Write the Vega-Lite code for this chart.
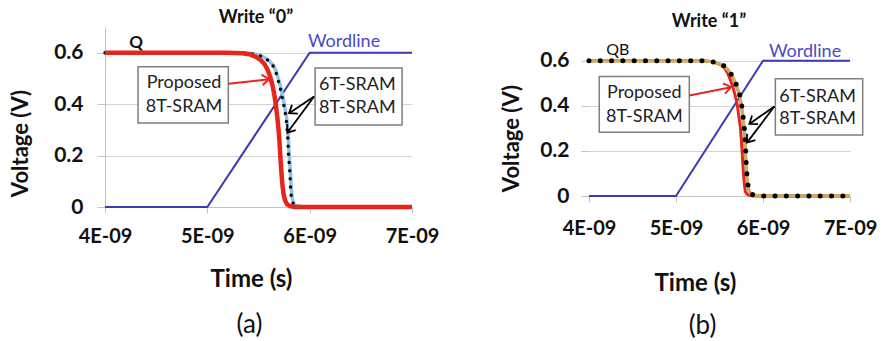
{
  "$schema": "https://vega.github.io/schema/vega-lite/v6.json",
  "background": "white",
  "padding": {"left": 9, "top": 8, "right": 0, "bottom": 0},
  "spacing": 61,
  "config": {
    "font": "Lato",
    "view": {"stroke": null},
    "axis": {"labelColor": "#111111", "titleColor": "#111111", "labelFlush": false, "labelOverlap": false}
  },
  "datasets": {
    "a_lines": [
      {"series": "Wordline", "t": 4e-9, "v": 0}, {"series": "Wordline", "t": 5e-9, "v": 0}, {"series": "Wordline", "t": 6e-9, "v": 0.6}, {"series": "Wordline", "t": 7e-9, "v": 0.6},
      {"series": "8T-SRAM", "t": 4e-9, "v": 0.6}, {"series": "8T-SRAM", "t": 5.3e-9, "v": 0.6}, {"series": "8T-SRAM", "t": 5.43e-9, "v": 0.597}, {"series": "8T-SRAM", "t": 5.5e-9, "v": 0.591}, {"series": "8T-SRAM", "t": 5.55e-9, "v": 0.583}, {"series": "8T-SRAM", "t": 5.6e-9, "v": 0.569}, {"series": "8T-SRAM", "t": 5.645e-9, "v": 0.551}, {"series": "8T-SRAM", "t": 5.673e-9, "v": 0.528}, {"series": "8T-SRAM", "t": 5.693e-9, "v": 0.501}, {"series": "8T-SRAM", "t": 5.713e-9, "v": 0.473}, {"series": "8T-SRAM", "t": 5.734e-9, "v": 0.434}, {"series": "8T-SRAM", "t": 5.753e-9, "v": 0.398}, {"series": "8T-SRAM", "t": 5.767e-9, "v": 0.368}, {"series": "8T-SRAM", "t": 5.779e-9, "v": 0.333}, {"series": "8T-SRAM", "t": 5.788e-9, "v": 0.292}, {"series": "8T-SRAM", "t": 5.794e-9, "v": 0.254}, {"series": "8T-SRAM", "t": 5.798e-9, "v": 0.214}, {"series": "8T-SRAM", "t": 5.805e-9, "v": 0.174}, {"series": "8T-SRAM", "t": 5.812e-9, "v": 0.137}, {"series": "8T-SRAM", "t": 5.817e-9, "v": 0.099}, {"series": "8T-SRAM", "t": 5.822e-9, "v": 0.061}, {"series": "8T-SRAM", "t": 5.83e-9, "v": 0.034}, {"series": "8T-SRAM", "t": 5.846e-9, "v": 0.013}, {"series": "8T-SRAM", "t": 5.87e-9, "v": 0.005}, {"series": "8T-SRAM", "t": 5.92e-9, "v": 0.001}, {"series": "8T-SRAM", "t": 5.97e-9, "v": 0}, {"series": "8T-SRAM", "t": 7e-9, "v": 0},
      {"series": "6T-SRAM", "t": 4e-9, "v": 0.6}, {"series": "6T-SRAM", "t": 5.3e-9, "v": 0.6}, {"series": "6T-SRAM", "t": 5.42e-9, "v": 0.597}, {"series": "6T-SRAM", "t": 5.49e-9, "v": 0.592}, {"series": "6T-SRAM", "t": 5.54e-9, "v": 0.584}, {"series": "6T-SRAM", "t": 5.59e-9, "v": 0.571}, {"series": "6T-SRAM", "t": 5.636e-9, "v": 0.553}, {"series": "6T-SRAM", "t": 5.665e-9, "v": 0.53}, {"series": "6T-SRAM", "t": 5.685e-9, "v": 0.503}, {"series": "6T-SRAM", "t": 5.705e-9, "v": 0.475}, {"series": "6T-SRAM", "t": 5.726e-9, "v": 0.436}, {"series": "6T-SRAM", "t": 5.745e-9, "v": 0.4}, {"series": "6T-SRAM", "t": 5.76e-9, "v": 0.37}, {"series": "6T-SRAM", "t": 5.772e-9, "v": 0.335}, {"series": "6T-SRAM", "t": 5.782e-9, "v": 0.293}, {"series": "6T-SRAM", "t": 5.788e-9, "v": 0.255}, {"series": "6T-SRAM", "t": 5.792e-9, "v": 0.215}, {"series": "6T-SRAM", "t": 5.799e-9, "v": 0.175}, {"series": "6T-SRAM", "t": 5.806e-9, "v": 0.138}, {"series": "6T-SRAM", "t": 5.811e-9, "v": 0.1}, {"series": "6T-SRAM", "t": 5.815e-9, "v": 0.062}, {"series": "6T-SRAM", "t": 5.822e-9, "v": 0.035}, {"series": "6T-SRAM", "t": 5.838e-9, "v": 0.014}, {"series": "6T-SRAM", "t": 5.86e-9, "v": 0.006}, {"series": "6T-SRAM", "t": 5.9e-9, "v": 0.002}, {"series": "6T-SRAM", "t": 5.95e-9, "v": 0}, {"series": "6T-SRAM", "t": 7e-9, "v": 0},
      {"series": "Proposed", "t": 4e-9, "v": 0.6}, {"series": "Proposed", "t": 5.2e-9, "v": 0.6}, {"series": "Proposed", "t": 5.34e-9, "v": 0.598}, {"series": "Proposed", "t": 5.41e-9, "v": 0.594}, {"series": "Proposed", "t": 5.47e-9, "v": 0.585}, {"series": "Proposed", "t": 5.52e-9, "v": 0.572}, {"series": "Proposed", "t": 5.56e-9, "v": 0.555}, {"series": "Proposed", "t": 5.59e-9, "v": 0.533}, {"series": "Proposed", "t": 5.615e-9, "v": 0.505}, {"series": "Proposed", "t": 5.64e-9, "v": 0.468}, {"series": "Proposed", "t": 5.655e-9, "v": 0.435}, {"series": "Proposed", "t": 5.67e-9, "v": 0.395}, {"series": "Proposed", "t": 5.685e-9, "v": 0.345}, {"series": "Proposed", "t": 5.695e-9, "v": 0.305}, {"series": "Proposed", "t": 5.705e-9, "v": 0.255}, {"series": "Proposed", "t": 5.713e-9, "v": 0.2}, {"series": "Proposed", "t": 5.722e-9, "v": 0.145}, {"series": "Proposed", "t": 5.733e-9, "v": 0.088}, {"series": "Proposed", "t": 5.745e-9, "v": 0.05}, {"series": "Proposed", "t": 5.76e-9, "v": 0.025}, {"series": "Proposed", "t": 5.78e-9, "v": 0.01}, {"series": "Proposed", "t": 5.81e-9, "v": 0.003}, {"series": "Proposed", "t": 5.85e-9, "v": 0}, {"series": "Proposed", "t": 7e-9, "v": 0}
    ],
    "b_lines": [
      {"series": "Wordline", "t": 4e-9, "v": 0}, {"series": "Wordline", "t": 5e-9, "v": 0}, {"series": "Wordline", "t": 6e-9, "v": 0.6}, {"series": "Wordline", "t": 7e-9, "v": 0.6},
      {"series": "Proposed", "t": 4e-9, "v": 0.6}, {"series": "Proposed", "t": 5.3e-9, "v": 0.6}, {"series": "Proposed", "t": 5.42e-9, "v": 0.596}, {"series": "Proposed", "t": 5.517e-9, "v": 0.582}, {"series": "Proposed", "t": 5.56e-9, "v": 0.567}, {"series": "Proposed", "t": 5.594e-9, "v": 0.545}, {"series": "Proposed", "t": 5.625e-9, "v": 0.515}, {"series": "Proposed", "t": 5.652e-9, "v": 0.486}, {"series": "Proposed", "t": 5.68e-9, "v": 0.445}, {"series": "Proposed", "t": 5.701e-9, "v": 0.412}, {"series": "Proposed", "t": 5.72e-9, "v": 0.36}, {"series": "Proposed", "t": 5.739e-9, "v": 0.308}, {"series": "Proposed", "t": 5.75e-9, "v": 0.255}, {"series": "Proposed", "t": 5.759e-9, "v": 0.204}, {"series": "Proposed", "t": 5.768e-9, "v": 0.145}, {"series": "Proposed", "t": 5.778e-9, "v": 0.086}, {"series": "Proposed", "t": 5.788e-9, "v": 0.045}, {"series": "Proposed", "t": 5.797e-9, "v": 0.019}, {"series": "Proposed", "t": 5.815e-9, "v": 0.008}, {"series": "Proposed", "t": 5.843e-9, "v": 0.003}, {"series": "Proposed", "t": 5.88e-9, "v": 0}, {"series": "Proposed", "t": 7e-9, "v": 0},
      {"series": "8T-SRAM", "t": 4e-9, "v": 0.6}, {"series": "8T-SRAM", "t": 5.3e-9, "v": 0.6}, {"series": "8T-SRAM", "t": 5.397e-9, "v": 0.597}, {"series": "8T-SRAM", "t": 5.465e-9, "v": 0.591}, {"series": "8T-SRAM", "t": 5.531e-9, "v": 0.582}, {"series": "8T-SRAM", "t": 5.595e-9, "v": 0.56}, {"series": "8T-SRAM", "t": 5.647e-9, "v": 0.53}, {"series": "8T-SRAM", "t": 5.69e-9, "v": 0.492}, {"series": "8T-SRAM", "t": 5.723e-9, "v": 0.456}, {"series": "8T-SRAM", "t": 5.745e-9, "v": 0.415}, {"series": "8T-SRAM", "t": 5.762e-9, "v": 0.368}, {"series": "8T-SRAM", "t": 5.777e-9, "v": 0.315}, {"series": "8T-SRAM", "t": 5.788e-9, "v": 0.264}, {"series": "8T-SRAM", "t": 5.795e-9, "v": 0.21}, {"series": "8T-SRAM", "t": 5.8e-9, "v": 0.16}, {"series": "8T-SRAM", "t": 5.809e-9, "v": 0.105}, {"series": "8T-SRAM", "t": 5.819e-9, "v": 0.056}, {"series": "8T-SRAM", "t": 5.835e-9, "v": 0.025}, {"series": "8T-SRAM", "t": 5.857e-9, "v": 0.009}, {"series": "8T-SRAM", "t": 5.895e-9, "v": 0.004}, {"series": "8T-SRAM", "t": 5.935e-9, "v": 0.002}, {"series": "8T-SRAM", "t": 5.995e-9, "v": 0}, {"series": "8T-SRAM", "t": 7e-9, "v": 0},
      {"series": "Conventional", "t": 4e-9, "v": 0.6}, {"series": "Conventional", "t": 5.3e-9, "v": 0.6}, {"series": "Conventional", "t": 5.402e-9, "v": 0.597}, {"series": "Conventional", "t": 5.47e-9, "v": 0.591}, {"series": "Conventional", "t": 5.536e-9, "v": 0.582}, {"series": "Conventional", "t": 5.6e-9, "v": 0.56}, {"series": "Conventional", "t": 5.652e-9, "v": 0.53}, {"series": "Conventional", "t": 5.695e-9, "v": 0.492}, {"series": "Conventional", "t": 5.728e-9, "v": 0.456}, {"series": "Conventional", "t": 5.75e-9, "v": 0.415}, {"series": "Conventional", "t": 5.767e-9, "v": 0.368}, {"series": "Conventional", "t": 5.782e-9, "v": 0.315}, {"series": "Conventional", "t": 5.793e-9, "v": 0.264}, {"series": "Conventional", "t": 5.8e-9, "v": 0.21}, {"series": "Conventional", "t": 5.805e-9, "v": 0.16}, {"series": "Conventional", "t": 5.814e-9, "v": 0.105}, {"series": "Conventional", "t": 5.824e-9, "v": 0.056}, {"series": "Conventional", "t": 5.84e-9, "v": 0.025}, {"series": "Conventional", "t": 5.862e-9, "v": 0.009}, {"series": "Conventional", "t": 5.9e-9, "v": 0.004}, {"series": "Conventional", "t": 5.94e-9, "v": 0.002}, {"series": "Conventional", "t": 6e-9, "v": 0}, {"series": "Conventional", "t": 7e-9, "v": 0},
      {"series": "6T-SRAM", "t": 4e-9, "v": 0.6}, {"series": "6T-SRAM", "t": 5.3e-9, "v": 0.6}, {"series": "6T-SRAM", "t": 5.402e-9, "v": 0.597}, {"series": "6T-SRAM", "t": 5.47e-9, "v": 0.591}, {"series": "6T-SRAM", "t": 5.536e-9, "v": 0.582}, {"series": "6T-SRAM", "t": 5.6e-9, "v": 0.56}, {"series": "6T-SRAM", "t": 5.652e-9, "v": 0.53}, {"series": "6T-SRAM", "t": 5.695e-9, "v": 0.492}, {"series": "6T-SRAM", "t": 5.728e-9, "v": 0.456}, {"series": "6T-SRAM", "t": 5.75e-9, "v": 0.415}, {"series": "6T-SRAM", "t": 5.767e-9, "v": 0.368}, {"series": "6T-SRAM", "t": 5.782e-9, "v": 0.315}, {"series": "6T-SRAM", "t": 5.793e-9, "v": 0.264}, {"series": "6T-SRAM", "t": 5.8e-9, "v": 0.21}, {"series": "6T-SRAM", "t": 5.805e-9, "v": 0.16}, {"series": "6T-SRAM", "t": 5.814e-9, "v": 0.105}, {"series": "6T-SRAM", "t": 5.824e-9, "v": 0.056}, {"series": "6T-SRAM", "t": 5.84e-9, "v": 0.025}, {"series": "6T-SRAM", "t": 5.862e-9, "v": 0.009}, {"series": "6T-SRAM", "t": 5.9e-9, "v": 0.004}, {"series": "6T-SRAM", "t": 5.94e-9, "v": 0.002}, {"series": "6T-SRAM", "t": 6e-9, "v": 0}, {"series": "6T-SRAM", "t": 7e-9, "v": 0}
    ],
    "a_notes": [
      {"kind": "head", "label": "Write “0”", "t": 5.476e-9, "v": 0.736},
      {"kind": "node", "label": "Q", "t": 4.303e-9, "v": 0.639},
      {"kind": "wl", "label": "Wordline", "t": 6.336e-9, "v": 0.643},
      {"kind": "box", "label": "Proposed", "t": 4.772e-9, "v": 0.484},
      {"kind": "box", "label": "8T-SRAM", "t": 4.772e-9, "v": 0.388},
      {"kind": "box", "label": "6T-SRAM", "t": 6.466e-9, "v": 0.475},
      {"kind": "box", "label": "8T-SRAM", "t": 6.466e-9, "v": 0.384}
    ],
    "b_notes": [
      {"kind": "head", "label": "Write “1”", "t": 5.379e-9, "v": 0.773},
      {"kind": "node", "label": "QB", "t": 4.33e-9, "v": 0.649},
      {"kind": "wl", "label": "Wordline", "t": 6.483e-9, "v": 0.641},
      {"kind": "box", "label": "Proposed", "t": 4.636e-9, "v": 0.456},
      {"kind": "box", "label": "8T-SRAM", "t": 4.636e-9, "v": 0.35},
      {"kind": "box", "label": "6T-SRAM", "t": 6.628e-9, "v": 0.441},
      {"kind": "box", "label": "8T-SRAM", "t": 6.628e-9, "v": 0.342}
    ],
    "a_boxes": [
      {"t": 4.323e-9, "t2": 5.205e-9, "v": 0.327, "v2": 0.545},
      {"t": 6.053e-9, "t2": 6.903e-9, "v": 0.319, "v2": 0.541}
    ],
    "b_boxes": [
      {"t": 4.118e-9, "t2": 5.153e-9, "v": 0.283, "v2": 0.53},
      {"t": 6.142e-9, "t2": 7.146e-9, "v": 0.271, "v2": 0.52}
    ],
    "a_arrows": [
      {"id": "p", "t": 5.603e-9, "v": 0.497, "t2": 5.205e-9, "v2": 0.479},
      {"id": "c1", "t": 5.799e-9, "v": 0.365, "t2": 6.043e-9, "v2": 0.43},
      {"id": "c2", "t": 5.782e-9, "v": 0.289, "t2": 6.043e-9, "v2": 0.43}
    ],
    "b_arrows": [
      {"id": "p", "t": 5.632e-9, "v": 0.483, "t2": 5.153e-9, "v2": 0.446},
      {"id": "c1", "t": 5.843e-9, "v": 0.32, "t2": 6.13e-9, "v2": 0.397},
      {"id": "c2", "t": 5.816e-9, "v": 0.237, "t2": 6.13e-9, "v2": 0.397}
    ]
  },
  "hconcat": [
    {
      "width": 307,
      "height": 180,
      "title": {"text": "(a)", "orient": "bottom", "fontSize": 26, "fontWeight": "normal", "color": "#111111", "offset": 21, "dx": -9},
      "encoding": {
        "x": {"field": "t", "type": "quantitative", "scale": {"domain": [4e-9, 7e-9], "nice": false, "zero": false},
          "axis": {"title": "Time (s)", "values": [4e-9, 5e-9, 6e-9, 7e-9], "labelExpr": "round(datum.value * 1e9) + 'E-09'", "grid": false, "domainColor": "#c4c4c4", "tickColor": "#c4c4c4", "tickSize": 6, "labelFontSize": 20, "labelFontWeight": "bold", "labelPadding": 13, "titleFontSize": 24, "titleFontWeight": "bold", "titlePadding": 21, "titleX": 146}},
        "y": {"field": "v", "type": "quantitative", "scale": {"domain": [0, 0.7], "nice": false},
          "axis": {"title": "Voltage (V)", "values": [0, 0.2, 0.4, 0.6], "labelExpr": "datum.value == 0 ? '0' : format(datum.value, '.1f')", "grid": true, "gridColor": "#d4d4d4", "gridWidth": 1.2, "domainColor": "#c4c4c4", "tickColor": "#c4c4c4", "tickSize": 8, "labelFontSize": 21, "labelFontWeight": "bold", "labelPadding": 14, "titleFontSize": 22, "titleFontWeight": "bold", "titlePadding": 21, "titleY": 116}}
      },
      "layer": [
        {"data": {"name": "a_lines"}, "transform": [{"filter": "datum.series == 'Wordline'"}], "mark": {"type": "line", "color": "#3a3ab4", "strokeWidth": 2}},
        {"data": {"name": "a_lines"}, "transform": [{"filter": "datum.series == '8T-SRAM'"}], "mark": {"type": "line", "color": "#8cc3e6", "strokeWidth": 3.5}},
        {"data": {"name": "a_lines"}, "transform": [{"filter": "datum.series == '6T-SRAM'"}], "mark": {"type": "line", "color": "#000000", "strokeWidth": 3.5, "strokeDash": [0, 8.2], "strokeCap": "round"}},
        {"data": {"name": "a_lines"}, "transform": [{"filter": "datum.series == 'Proposed'"}], "mark": {"type": "line", "color": "#e8251d", "strokeWidth": 4.5}},
        {"data": {"name": "a_boxes"}, "mark": {"type": "rect", "fill": "white", "stroke": "#7f7f7f", "strokeWidth": 1.5}, "encoding": {"x2": {"field": "t2"}, "y2": {"field": "v2"}}},
        {"data": {"name": "a_notes"}, "transform": [{"filter": "datum.kind == 'box'"}], "mark": {"type": "text", "fontSize": 18, "color": "#222222", "clip": false}, "encoding": {"text": {"field": "label"}}},
        {"data": {"name": "a_notes"}, "transform": [{"filter": "datum.kind == 'head'"}], "mark": {"type": "text", "fontSize": 18, "fontWeight": "bold", "color": "#111111", "clip": false}, "encoding": {"text": {"field": "label"}}},
        {"data": {"name": "a_notes"}, "transform": [{"filter": "datum.kind == 'node'"}], "mark": {"type": "text", "fontSize": 17, "fontWeight": "bold", "color": "#111111", "clip": false}, "encoding": {"text": {"field": "label"}}},
        {"data": {"name": "a_notes"}, "transform": [{"filter": "datum.kind == 'wl'"}], "mark": {"type": "text", "fontSize": 18, "color": "#4a4ac6", "clip": false}, "encoding": {"text": {"field": "label"}}},
        {"data": {"name": "a_arrows"}, "transform": [{"filter": "datum.id == 'p'"}], "mark": {"type": "rule", "color": "#e8251d", "strokeWidth": 2}, "encoding": {"x2": {"field": "t2"}, "y2": {"field": "v2"}}},
        {"data": {"name": "a_arrows"}, "transform": [{"filter": "datum.id != 'p'"}], "mark": {"type": "rule", "color": "#000000", "strokeWidth": 1.8}, "encoding": {"x2": {"field": "t2"}, "y2": {"field": "v2"}}},
        {"data": {"name": "a_arrows"}, "transform": [{"filter": "datum.id == 'p'"}], "mark": {"type": "point", "shape": "M -1 -0.75 L 0 0 L -1 0.75", "filled": false, "stroke": "#e8251d", "strokeWidth": 2, "size": 196, "angle": -6, "opacity": 1}},
        {"data": {"name": "a_arrows"}, "transform": [{"filter": "datum.id == 'c1'"}], "mark": {"type": "point", "shape": "M -1 -0.75 L 0 0 L -1 0.75", "filled": false, "stroke": "#000000", "strokeWidth": 1.8, "size": 196, "angle": 146, "opacity": 1}},
        {"data": {"name": "a_arrows"}, "transform": [{"filter": "datum.id == 'c2'"}], "mark": {"type": "point", "shape": "M -1 -0.75 L 0 0 L -1 0.75", "filled": false, "stroke": "#000000", "strokeWidth": 1.8, "size": 196, "angle": 126, "opacity": 1}}
      ]
    },
    {
      "width": 261,
      "height": 169,
      "title": {"text": "(b)", "orient": "bottom", "fontSize": 26, "fontWeight": "normal", "color": "#111111", "offset": 18, "dx": -17},
      "encoding": {
        "x": {"field": "t", "type": "quantitative", "scale": {"domain": [4e-9, 7e-9], "nice": false, "zero": false},
          "axis": {"title": "Time (s)", "values": [4e-9, 5e-9, 6e-9, 7e-9], "labelExpr": "round(datum.value * 1e9) + 'E-09'", "grid": false, "domainColor": "#c4c4c4", "tickColor": "#c4c4c4", "tickSize": 6, "labelFontSize": 20, "labelFontWeight": "bold", "labelPadding": 16, "titleFontSize": 24, "titleFontWeight": "bold", "titlePadding": 33, "titleX": 106}},
        "y": {"field": "v", "type": "quantitative", "scale": {"domain": [0, 0.75], "nice": false},
          "axis": {"title": "Voltage (V)", "values": [0, 0.2, 0.4, 0.6], "labelExpr": "datum.value == 0 ? '0' : format(datum.value, '.1f')", "grid": true, "gridColor": "#d4d4d4", "gridWidth": 1.2, "domain": false, "tickColor": "#c4c4c4", "tickSize": 8, "labelFontSize": 21, "labelFontWeight": "bold", "labelPadding": 12, "titleFontSize": 22, "titleFontWeight": "bold", "titlePadding": 16, "titleY": 111}}
      },
      "layer": [
        {"mark": {"type": "rule", "color": "#c4c4c4", "strokeWidth": 1}, "encoding": {"x": {"datum": 4e-9, "type": "quantitative"}, "y": {"datum": 0, "type": "quantitative"}, "y2": {"datum": 0.7}}},
        {"data": {"name": "b_lines"}, "transform": [{"filter": "datum.series == 'Wordline'"}], "mark": {"type": "line", "color": "#3a3ab4", "strokeWidth": 2}},
        {"data": {"name": "b_lines"}, "transform": [{"filter": "datum.series == 'Proposed'"}], "mark": {"type": "line", "color": "#e8251d", "strokeWidth": 3}},
        {"data": {"name": "b_lines"}, "transform": [{"filter": "datum.series == '8T-SRAM'"}], "mark": {"type": "line", "color": "#7db04c", "strokeWidth": 3}},
        {"data": {"name": "b_lines"}, "transform": [{"filter": "datum.series == 'Conventional'"}], "mark": {"type": "line", "color": "#d8a85e", "strokeWidth": 3}},
        {"data": {"name": "b_lines"}, "transform": [{"filter": "datum.series == '6T-SRAM'"}], "mark": {"type": "line", "color": "#000000", "strokeWidth": 5, "strokeDash": [0, 11.3], "strokeCap": "round"}},
        {"data": {"name": "b_boxes"}, "mark": {"type": "rect", "fill": "white", "stroke": "#7f7f7f", "strokeWidth": 1.5}, "encoding": {"x2": {"field": "t2"}, "y2": {"field": "v2"}}},
        {"data": {"name": "b_notes"}, "transform": [{"filter": "datum.kind == 'box'"}], "mark": {"type": "text", "fontSize": 18, "color": "#222222", "clip": false}, "encoding": {"text": {"field": "label"}}},
        {"data": {"name": "b_notes"}, "transform": [{"filter": "datum.kind == 'head'"}], "mark": {"type": "text", "fontSize": 18, "fontWeight": "bold", "color": "#111111", "clip": false}, "encoding": {"text": {"field": "label"}}},
        {"data": {"name": "b_notes"}, "transform": [{"filter": "datum.kind == 'node'"}], "mark": {"type": "text", "fontSize": 16, "color": "#111111", "clip": false}, "encoding": {"text": {"field": "label"}}},
        {"data": {"name": "b_notes"}, "transform": [{"filter": "datum.kind == 'wl'"}], "mark": {"type": "text", "fontSize": 18, "color": "#4a4ac6", "clip": false}, "encoding": {"text": {"field": "label"}}},
        {"data": {"name": "b_arrows"}, "transform": [{"filter": "datum.id == 'p'"}], "mark": {"type": "rule", "color": "#e8251d", "strokeWidth": 2}, "encoding": {"x2": {"field": "t2"}, "y2": {"field": "v2"}}},
        {"data": {"name": "b_arrows"}, "transform": [{"filter": "datum.id != 'p'"}], "mark": {"type": "rule", "color": "#000000", "strokeWidth": 1.8}, "encoding": {"x2": {"field": "t2"}, "y2": {"field": "v2"}}},
        {"data": {"name": "b_arrows"}, "transform": [{"filter": "datum.id == 'p'"}], "mark": {"type": "point", "shape": "M -1 -0.75 L 0 0 L -1 0.75", "filled": false, "stroke": "#e8251d", "strokeWidth": 2, "size": 196, "angle": -11, "opacity": 1}},
        {"data": {"name": "b_arrows"}, "transform": [{"filter": "datum.id == 'c1'"}], "mark": {"type": "point", "shape": "M -1 -0.75 L 0 0 L -1 0.75", "filled": false, "stroke": "#000000", "strokeWidth": 1.8, "size": 196, "angle": 145, "opacity": 1}},
        {"data": {"name": "b_arrows"}, "transform": [{"filter": "datum.id == 'c2'"}], "mark": {"type": "point", "shape": "M -1 -0.75 L 0 0 L -1 0.75", "filled": false, "stroke": "#000000", "strokeWidth": 1.8, "size": 196, "angle": 127, "opacity": 1}}
      ]
    }
  ]
}
